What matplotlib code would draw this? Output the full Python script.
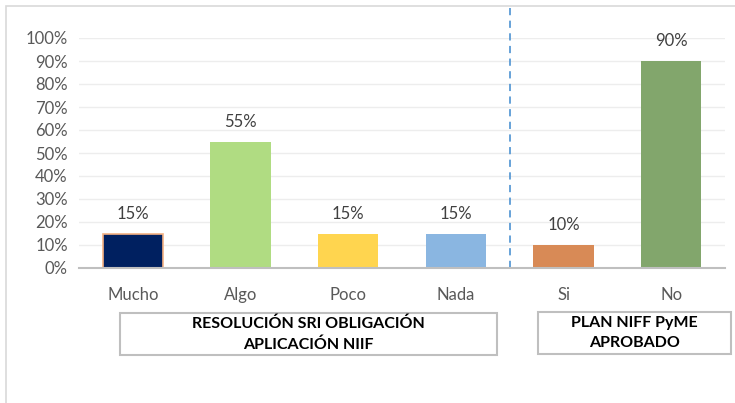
import numpy as np
import matplotlib
matplotlib.use("Agg")
import matplotlib.pyplot as plt
from matplotlib.patches import Rectangle

categories = ["Mucho", "Algo", "Poco", "Nada", "Si", "No"]
values = [0.15, 0.55, 0.15, 0.15, 0.10, 0.90]
labels = ["15%", "55%", "15%", "15%", "10%", "90%"]
colors = ["#002060", "#B0DC82", "#FFD54F", "#8AB6E1", "#D88A56", "#82A66C"]
edges = ["#F4B183", "none", "none", "none", "none", "none"]
group_titles = ["RESOLUCIÓN SRI OBLIGACIÓN\nAPLICACIÓN NIIF", "PLAN NIFF PyME\nAPROBADO"]

plt.rcParams['font.family'] = ['Lato', 'DejaVu Sans']

W, H = 735, 403
fig = plt.figure(figsize=(W / 100, H / 100), dpi=100)

# outer chart border
fig.patches.append(Rectangle((6 / W, -0.1), 1.2, 1 - 6 / H + 0.1, transform=fig.transFigure,
                             fill=False, edgecolor="#D9D9D9", lw=1.2))

ax = fig.add_axes([79 / W, 1 - 268 / H, 646 / W, 230 / H])
x = np.arange(len(categories))
ax.bar(x, values, width=0.56, color=colors, edgecolor=edges, linewidth=1.2, zorder=3)
for xi, v, lab in zip(x, values, labels):
    ax.text(xi, v + 0.085, lab, ha="center", va="center", fontsize=12, color="#404040")

ax.set_xlim(-0.5, len(categories) - 0.5)
ax.set_ylim(0, 1)
ax.set_yticks(np.arange(0, 1.01, 0.1))
ax.set_yticklabels([f"{int(round(t * 100))}%" for t in np.arange(0, 1.01, 0.1)])
ax.set_xticks(x)
ax.set_xticklabels(categories)
ax.tick_params(axis="both", length=0, labelsize=12, labelcolor="#595959")
ax.tick_params(axis="x", pad=14)
ax.tick_params(axis="y", pad=8)
ax.grid(axis="y", color="#EDEDED", lw=1, zorder=0)
for s in ["top", "right", "left"]:
    ax.spines[s].set_visible(False)
ax.spines["bottom"].set_color("#BFBFBF")
ax.spines["bottom"].set_linewidth(1.5)
ax.spines["bottom"].set_zorder(4)

# dashed separator
ax.plot([3.5, 3.5], [0, 1.145], ls=(0, (4, 3)), color="#5B9BD5", lw=1.3, clip_on=False, zorder=4)

# group boxes
boxes = [(120, 313, 377, 42), (538, 312, 193, 42)]
for (bx, by, bw, bh), title in zip(boxes, group_titles):
    fig.patches.append(Rectangle((bx / W, 1 - (by + bh) / H), bw / W, bh / H,
                                 transform=fig.transFigure, fill=False,
                                 edgecolor="#BFBFBF", lw=1.5))
    fig.text((bx + bw / 2) / W, 1 - (by + bh / 2) / H, title, ha="center", va="center",
             fontsize=11.5, fontweight="bold", color="black", linespacing=1.55)

fig.savefig("out.png", dpi=100)
